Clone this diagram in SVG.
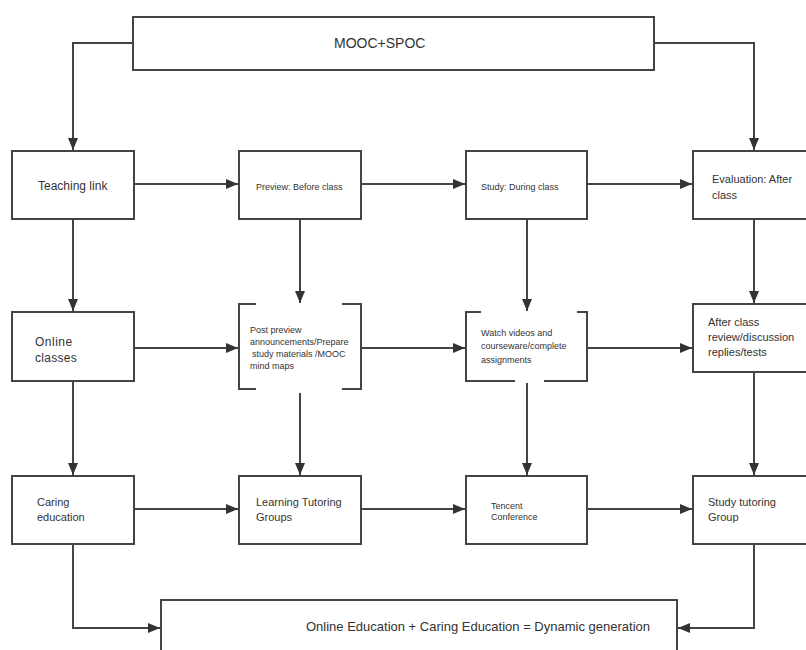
<svg xmlns="http://www.w3.org/2000/svg" width="806" height="650" viewBox="0 0 806 650">
  <style>
    .box { fill: #fff; stroke: #444; stroke-width: 2; }
    .br { fill: none; stroke: #444; stroke-width: 2; }
    .ln { fill: none; stroke: #444; stroke-width: 2; marker-end: url(#ah); }
    text { font-family: "Liberation Sans", Arial, sans-serif; fill: #333; }
    .t14 { font-size: 14px; }
    .t13 { font-size: 13px; }
    .t12 { font-size: 12px; }
    .t11 { font-size: 11px; }
    .t9 { font-size: 9px; }
  </style>
  <defs>
    <marker id="ah" viewBox="0 0 12 10" refX="12" refY="5" markerWidth="12" markerHeight="10" markerUnits="userSpaceOnUse" orient="auto">
      <path d="M0,0 L12,5 L0,10 z" fill="#333"/>
    </marker>
  </defs>
  <rect width="806" height="650" fill="#fff"/>

  <g id="connectors">
    <path class="ln" d="M133,43 H73 V150"/>
    <path class="ln" d="M654,43 H754 V150"/>
    <path class="ln" d="M134,184 H238"/>
    <path class="ln" d="M361,184 H465"/>
    <path class="ln" d="M587,184 H692"/>
    <path class="ln" d="M73,219 V311"/>
    <path class="ln" d="M300,219 V303"/>
    <path class="ln" d="M527,219 V311"/>
    <path class="ln" d="M754,219 V303"/>
    <path class="ln" d="M134,348 H238"/>
    <path class="ln" d="M361,348 H465"/>
    <path class="ln" d="M587,348 H692"/>
    <path class="ln" d="M73,381 V475"/>
    <path class="ln" d="M300,393 V475"/>
    <path class="ln" d="M527,383 V475"/>
    <path class="ln" d="M754,372 V475"/>
    <path class="ln" d="M134,509 H238"/>
    <path class="ln" d="M361,509 H465"/>
    <path class="ln" d="M587,509 H692"/>
    <path class="ln" d="M73,544 V628 H160"/>
    <path class="ln" d="M754,544 V628 H678"/>
  </g>

  <g id="mooc-spoc">
    <rect class="box" x="133" y="17" width="521" height="53"/>
    <text class="t14" x="334" y="48">MOOC+SPOC</text>
  </g>

  <g id="teaching-link">
    <rect class="box" x="12" y="151" width="122" height="68"/>
    <text class="t12" x="38" y="190">Teaching link</text>
  </g>
  <g id="preview">
    <rect class="box" x="239" y="151" width="122" height="68"/>
    <text class="t9" x="256" y="190">Preview: Before class</text>
  </g>
  <g id="study">
    <rect class="box" x="466" y="151" width="121" height="68"/>
    <text class="t9" x="481" y="190">Study: During class</text>
  </g>
  <g id="evaluation">
    <rect class="box" x="693" y="151" width="125" height="68"/>
    <text class="t11" x="712" y="183">Evaluation: After</text>
    <text class="t11" x="712" y="199">class</text>
  </g>

  <g id="online-classes">
    <rect class="box" x="12" y="312" width="122" height="69"/>
    <text class="t12" x="35" y="346" letter-spacing="0.5">Online</text>
    <text class="t12" x="35" y="362" letter-spacing="0.3">classes</text>
  </g>
  <g id="post-preview">
    <path class="br" d="M256,304 H239 V389 H256"/>
    <path class="br" d="M342,304 H361 V389 H342"/>
    <text class="t9" x="250" y="333">Post preview</text>
    <text class="t9" x="250" y="345">announcements/Prepare</text>
    <text class="t9" x="252" y="357">study materials /MOOC</text>
    <text class="t9" x="250" y="369">mind maps</text>
  </g>
  <g id="watch-videos">
    <path class="br" d="M481,312 H466 V381 H515"/>
    <path class="br" d="M577,312 H587 V381 H544"/>
    <text class="t9" x="481" y="336">Watch videos and</text>
    <text class="t9" x="481" y="349">courseware/complete</text>
    <text class="t9" x="481" y="363">assignments</text>
  </g>
  <g id="after-class">
    <rect class="box" x="693" y="304" width="125" height="68"/>
    <text class="t11" x="708" y="326">After class</text>
    <text class="t11" x="708" y="341">review/discussion</text>
    <text class="t11" x="708" y="356">replies/tests</text>
  </g>

  <g id="caring-education">
    <rect class="box" x="12" y="476" width="122" height="68"/>
    <text class="t11" x="37" y="506">Caring</text>
    <text class="t11" x="37" y="521">education</text>
  </g>
  <g id="learning-tutoring">
    <rect class="box" x="239" y="476" width="122" height="68"/>
    <text class="t11" x="256" y="506">Learning Tutoring</text>
    <text class="t11" x="256" y="521">Groups</text>
  </g>
  <g id="tencent">
    <rect class="box" x="466" y="476" width="121" height="68"/>
    <text class="t9" x="491" y="509">Tencent</text>
    <text class="t9" x="491" y="520">Conference</text>
  </g>
  <g id="study-tutoring">
    <rect class="box" x="693" y="476" width="125" height="68"/>
    <text class="t11" x="708" y="506">Study tutoring</text>
    <text class="t11" x="708" y="521">Group</text>
  </g>

  <g id="dynamic-generation">
    <rect class="box" x="161" y="600" width="516" height="60"/>
    <text class="t13" x="306" y="631">Online Education + Caring Education = Dynamic generation</text>
  </g>
</svg>
